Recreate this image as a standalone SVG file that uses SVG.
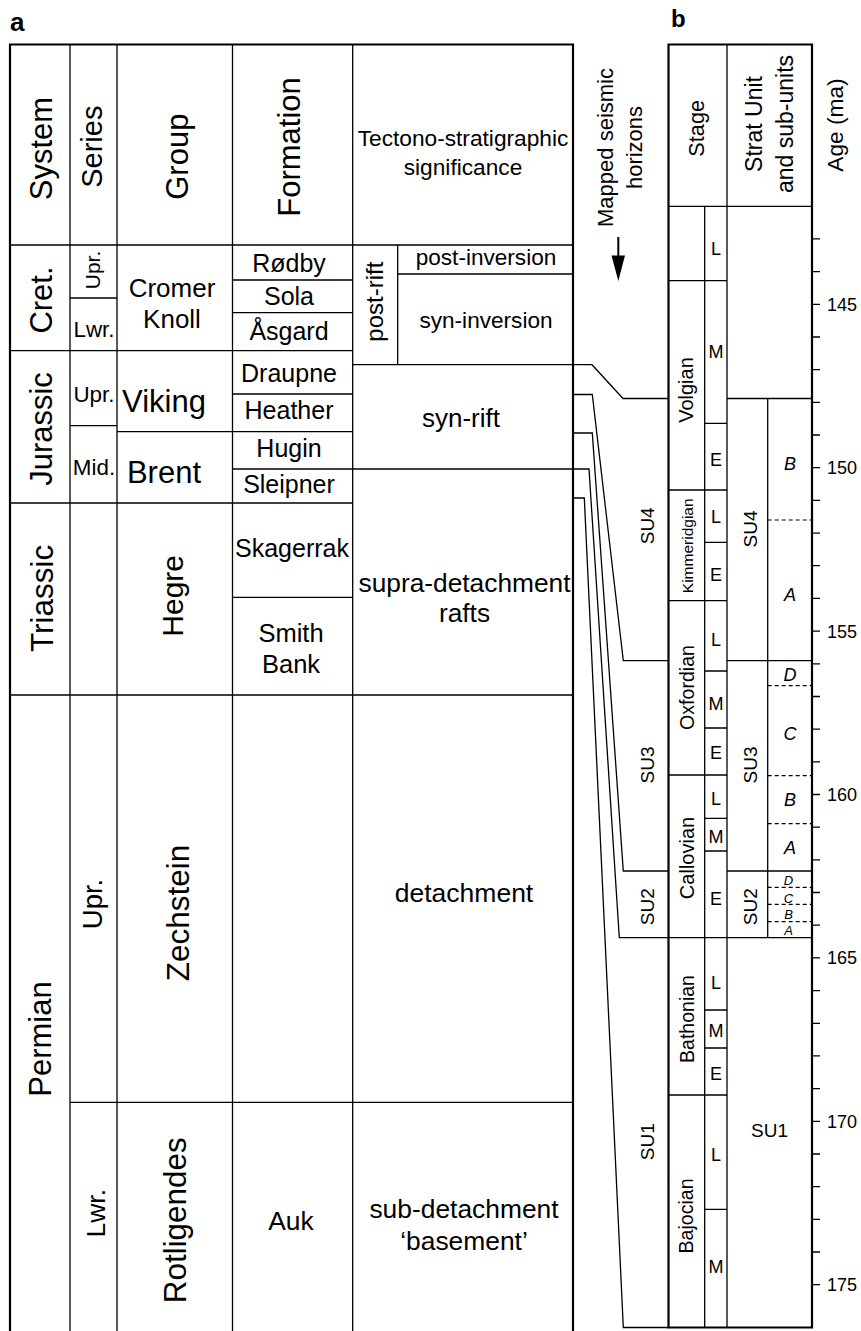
<svg xmlns="http://www.w3.org/2000/svg" width="861" height="1331" viewBox="0 0 861 1331">
<style>
text{font-family:"Liberation Sans",Arial,sans-serif;fill:#000}
.m{text-anchor:middle}
.ln{stroke:#000;stroke-width:1.3;fill:none}
.bd{stroke:#000;stroke-width:2.2;fill:none}
.cn{stroke:#000;stroke-width:1.3;fill:none;stroke-linejoin:miter}
.ds{stroke:#000;stroke-width:1.2;fill:none;stroke-dasharray:4 3}
.it{font-style:italic;text-anchor:middle}
</style>
<rect width="861" height="1331" fill="#fff"/>

<text x="10" y="30.5" font-size="26" font-weight="bold">a</text>
<text x="671" y="26.7" font-size="24" font-weight="bold">b</text>

<!-- Panel a grid -->
<g id="panel-a-grid">
<path class="bd" d="M10,1331 V44.5 H573 V1331"/>
<path class="ln" d="M10,245 H573 M70,44.5 V1331 M117,44.5 V1331 M232.5,44.5 V1331 M352.7,44.5 V1331 M397.7,245 V364.7"/>
<path class="ln" d="M10,350.7 H352.7 M10,503 H352.7 M10,695 H573 M70,1102.3 H573 M70,298 H117 M70,425.7 H117 M117,431.7 H352.7 M232.5,280 H352.7 M232.5,312.7 H352.7 M232.5,394 H352.7 M232.5,469 H573 M232.5,597.3 H352.7 M397.7,274 H573 M352.7,364.7 H573"/>
</g>

<g id="header-a">
<text transform="translate(52,148.5) rotate(-90)" class="m" font-size="31">System</text>
<text transform="translate(102,146.7) rotate(-90)" class="m" font-size="29">Series</text>
<text transform="translate(188,156.7) rotate(-90)" class="m" font-size="31">Group</text>
<text transform="translate(300,147) rotate(-90)" class="m" font-size="31">Formation</text>
<text x="463" y="146" class="m" font-size="22.7">Tectono-stratigraphic</text>
<text x="463" y="174.5" class="m" font-size="22.7">significance</text>
</g>

<g id="cretaceous">
<text transform="translate(52,300) rotate(-90)" class="m" font-size="31">Cret.</text>
<text transform="translate(100,270) rotate(-90)" class="m" font-size="21">Upr.</text>
<text x="94" y="336.7" class="m" font-size="22.4">Lwr.</text>
<text x="172" y="296.7" class="m" font-size="26">Cromer</text>
<text x="172" y="328.3" class="m" font-size="26">Knoll</text>
<text x="289" y="271.7" class="m" font-size="25">Rødby</text>
<text x="289" y="305" class="m" font-size="25">Sola</text>
<text x="289" y="340" class="m" font-size="25">Åsgard</text>
<text transform="translate(383,301.7) rotate(-90)" class="m" font-size="24">post-rift</text>
<text x="486" y="265" class="m" font-size="22.6">post-inversion</text>
<text x="486" y="328.3" class="m" font-size="22.6">syn-inversion</text>
</g>

<g id="jurassic">
<text transform="translate(52,429) rotate(-90)" class="m" font-size="31">Jurassic</text>
<text x="94" y="401.7" class="m" font-size="22.4">Upr.</text>
<text x="94" y="475" class="m" font-size="22.4">Mid.</text>
<text x="164" y="411.7" class="m" font-size="31">Viking</text>
<text x="164" y="483.3" class="m" font-size="31">Brent</text>
<text x="289" y="381.7" class="m" font-size="25">Draupne</text>
<text x="289" y="419.3" class="m" font-size="25">Heather</text>
<text x="289" y="456.7" class="m" font-size="25">Hugin</text>
<text x="289" y="493.3" class="m" font-size="25">Sleipner</text>
<text x="461" y="426.7" class="m" font-size="26">syn-rift</text>
</g>

<g id="triassic">
<text transform="translate(53,598.3) rotate(-90)" class="m" font-size="31.5">Triassic</text>
<text transform="translate(183,595.8) rotate(-90)" class="m" font-size="30">Hegre</text>
<text x="292" y="557.3" class="m" font-size="25">Skagerrak</text>
<text x="291" y="641.7" class="m" font-size="25.5">Smith</text>
<text x="291" y="673.3" class="m" font-size="25.5">Bank</text>
<text x="464.5" y="591.7" class="m" font-size="26.3">supra-detachment</text>
<text x="464.5" y="621.7" class="m" font-size="26.3">rafts</text>
</g>

<g id="permian">
<text transform="translate(51,1039) rotate(-90)" class="m" font-size="31">Permian</text>
<text transform="translate(102,904) rotate(-90)" class="m" font-size="27.5">Upr.</text>
<text transform="translate(189,913) rotate(-90)" class="m" font-size="31.5">Zechstein</text>
<text x="464" y="901.7" class="m" font-size="26.5">detachment</text>
<text transform="translate(105,1213.3) rotate(-90)" class="m" font-size="26.5">Lwr.</text>
<text transform="translate(186,1220.3) rotate(-90)" class="m" font-size="31.4">Rotligendes</text>
<text x="291" y="1230" class="m" font-size="26.4">Auk</text>
<text x="464" y="1218.3" class="m" font-size="26.4">sub-detachment</text>
<text x="464" y="1250" class="m" font-size="26.4">‘basement’</text>
</g>

<!-- Mapped horizons label and arrow -->
<g id="horizons-label">
<text transform="translate(613,147.5) rotate(-90)" class="m" font-size="22">Mapped seismic</text>
<text transform="translate(641.7,147.5) rotate(-90)" class="m" font-size="22">horizons</text>
<line x1="618.3" y1="237" x2="618.3" y2="258" stroke="#000" stroke-width="2"/>
<polygon points="611.5,255.5 625,255.5 618.3,281" fill="#000"/>
</g>

<!-- Connectors: mapped seismic horizons -->
<g id="connectors">
<polyline class="cn" points="573,364.7 592,364.7 623,398.5 668.5,398.5"/>
<polyline class="cn" points="573,394.5 592.3,394.5 623.3,660.7 668.5,660.7"/>
<polyline class="cn" points="573,433 592.3,433 623.3,871 668.5,871"/>
<polyline class="cn" points="573,469 589,469 619.3,937.7 668.5,937.7"/>
<polyline class="cn" points="573,498 584.3,498 623.3,1327.5 668.5,1327.5"/>
</g>

<g id="su-left">
<text transform="translate(654,525.8) rotate(-90)" class="m" font-size="19">SU4</text>
<text transform="translate(654,765) rotate(-90)" class="m" font-size="19">SU3</text>
<text transform="translate(654,906.7) rotate(-90)" class="m" font-size="19">SU2</text>
<text transform="translate(654,1141.7) rotate(-90)" class="m" font-size="19">SU1</text>
</g>

<!-- Panel b grid -->
<g id="panel-b-grid">
<path class="bd" d="M668.5,1327.5 V44.5 H812 V1327.5 Z"/>
<path class="ln" d="M668.5,206.3 H812 M727,44.5 V1327.5 M704.7,206.3 V1327.5 M767.7,398.5 V937.7"/>
<path class="ln" d="M668.5,280.7 H727 M668.5,490 H727 M668.5,600.7 H727 M668.5,775 H727 M668.5,937.7 H812 M668.5,1095 H727"/>
<path class="ln" d="M704.7,423.3 H727 M704.7,542.3 H727 M704.7,671 H727 M704.7,728 H727 M704.7,818.3 H727 M704.7,851 H727 M704.7,1010 H727 M704.7,1048 H727 M704.7,1209.3 H727"/>
<path class="ln" d="M727,398.5 H812 M727,660.7 H812 M727,871 H812"/>
<path class="ds" d="M767.7,520 H812 M767.7,685.7 H812 M767.7,775.7 H812 M767.7,823.7 H812 M767.7,887.3 H812 M767.7,904.3 H812 M767.7,921.7 H812"/>
</g>

<g id="header-b">
<text transform="translate(703.5,128.3) rotate(-90)" class="m" font-size="21.7">Stage</text>
<text transform="translate(762,124) rotate(-90)" class="m" font-size="23">Strat Unit</text>
<text transform="translate(793,124) rotate(-90)" class="m" font-size="23">and sub-units</text>
<text transform="translate(843,125) rotate(-90)" class="m" font-size="22.7">Age (ma)</text>
</g>

<g id="stages">
<text transform="translate(693,390) rotate(-90)" class="m" font-size="20">Volgian</text>
<text transform="translate(693,545.8) rotate(-90)" class="m" font-size="15.5">Kimmeridgian</text>
<text transform="translate(694,687.5) rotate(-90)" class="m" font-size="19.6">Oxfordian</text>
<text transform="translate(694,858) rotate(-90)" class="m" font-size="20">Callovian</text>
<text transform="translate(694,1019) rotate(-90)" class="m" font-size="19.5">Bathonian</text>
<text transform="translate(693,1216) rotate(-90)" class="m" font-size="19.6">Bajocian</text>
</g>

<g id="substages" font-size="18">
<text x="716" y="255.4" class="m">L</text>
<text x="716" y="358.1" class="m">M</text>
<text x="716" y="466.4" class="m">E</text>
<text x="716" y="523.1" class="m">L</text>
<text x="716" y="581.4" class="m">E</text>
<text x="716" y="646.4" class="m">L</text>
<text x="716" y="710.4" class="m">M</text>
<text x="716" y="759.4" class="m">E</text>
<text x="716" y="805.4" class="m">L</text>
<text x="716" y="842.9" class="m">M</text>
<text x="716" y="904.7" class="m">E</text>
<text x="716" y="988.9" class="m">L</text>
<text x="716" y="1037.4" class="m">M</text>
<text x="716" y="1079.7" class="m">E</text>
<text x="716" y="1161.4" class="m">L</text>
<text x="716" y="1273.1" class="m">M</text>
</g>

<g id="strat-units">
<text transform="translate(757,529) rotate(-90)" class="m" font-size="19">SU4</text>
<text transform="translate(757,765) rotate(-90)" class="m" font-size="19">SU3</text>
<text transform="translate(757,906.7) rotate(-90)" class="m" font-size="19">SU2</text>
<text x="769.5" y="1136.7" class="m" font-size="19">SU1</text>
<g font-size="18">
<text x="790" y="469.7" class="it">B</text>
<text x="790" y="601.4" class="it">A</text>
<text x="790" y="681.4" class="it">D</text>
<text x="790" y="739.7" class="it">C</text>
<text x="790" y="806.4" class="it">B</text>
<text x="790" y="853.9" class="it">A</text>
</g>
<g font-size="13">
<text x="788.5" y="884.7" class="it">D</text>
<text x="788.5" y="903" class="it">C</text>
<text x="788.5" y="919" class="it">B</text>
<text x="788.5" y="934.7" class="it">A</text>
</g>
</g>

<g id="age-axis">
<path class="ln" d="M812,238.9 H820 M812,271.6 H820 M812,304.3 H820 M812,337 H820 M812,369.7 H820 M812,402.3 H820 M812,435 H820 M812,467.7 H820 M812,500.4 H820 M812,533.1 H820 M812,565.7 H820 M812,598.4 H820 M812,631.1 H820 M812,663.8 H820 M812,696.5 H820 M812,729.1 H820 M812,761.8 H820 M812,794.5 H820 M812,827.2 H820 M812,859.9 H820 M812,892.5 H820 M812,925.2 H820 M812,957.9 H820 M812,990.6 H820 M812,1023.3 H820 M812,1055.9 H820 M812,1088.6 H820 M812,1121.3 H820 M812,1154 H820 M812,1186.7 H820 M812,1219.3 H820 M812,1252 H820 M812,1284.7 H820"/>
<g font-size="18">
<text x="827" y="310.7">145</text>
<text x="827" y="474.1">150</text>
<text x="827" y="637.5">155</text>
<text x="827" y="800.9">160</text>
<text x="827" y="964.3">165</text>
<text x="827" y="1127.7">170</text>
<text x="827" y="1291.1">175</text>
</g>
</g>
</svg>
